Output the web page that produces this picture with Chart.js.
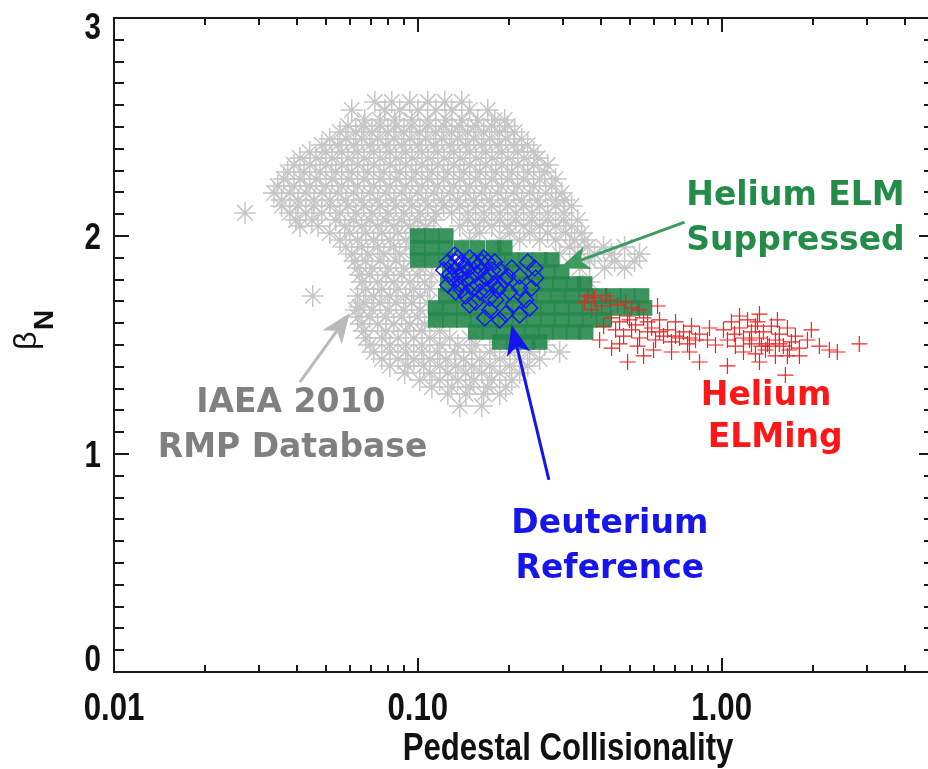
<!DOCTYPE html>
<html>
<head>
<meta charset="utf-8">
<script src="https://cdn.jsdelivr.net/npm/chart.js@4.4.1/dist/chart.umd.min.js"></script>
<style>
  html, body { margin: 0; padding: 0; background: #fff; overflow: hidden; }
  #wrap { width: 950px; height: 769px; }
</style>
</head>
<body>
<div id="wrap"><canvas id="grafica"></canvas></div>
<script>
// ---- datos (x = colisionalidad, y = beta N) ----
const rmpDatabase = [
  [0.0722,2.615],[0.0821,2.615],[0.0941,2.615],[0.1078,2.615],[0.1227,2.615],[0.1395,2.615],
  [0.0606,2.578],[0.0779,2.578],[0.0872,2.578],[0.1000,2.578],[0.1146,2.578],[0.1293,2.578],[0.1482,2.578],[0.1699,2.578],
  [0.0669,2.532],[0.0750,2.532],[0.0840,2.532],[0.0955,2.532],[0.1078,2.532],[0.1236,2.532],[0.1395,2.532],[0.1575,2.532],[0.1792,2.532],[0.1932,2.532],
  [0.0589,2.505],[0.0664,2.505],[0.0750,2.505],[0.0847,2.505],[0.0955,2.505],[0.1078,2.505],[0.1217,2.505],[0.1374,2.505],[0.1551,2.505],[0.1751,2.505],[0.1976,2.505],
  [0.0554,2.477],[0.0625,2.477],[0.0706,2.477],[0.0797,2.477],[0.0899,2.477],[0.1015,2.477],[0.1146,2.477],[0.1293,2.477],[0.1460,2.477],[0.1648,2.477],[0.1860,2.477],[0.2084,2.477],
  [0.0513,2.445],[0.0580,2.445],[0.0654,2.445],[0.0738,2.445],[0.0834,2.445],[0.0941,2.445],[0.1062,2.445],[0.1199,2.445],[0.1354,2.445],[0.1528,2.445],[0.1725,2.445],[0.1946,2.445],[0.2197,2.445],
  [0.0483,2.417],[0.0545,2.417],[0.0615,2.417],[0.0695,2.417],[0.0785,2.417],[0.0885,2.417],[0.1000,2.417],[0.1129,2.417],[0.1274,2.417],[0.1438,2.417],[0.1623,2.417],[0.1833,2.417],[0.2069,2.417],[0.2299,2.417],
  [0.0441,2.385],[0.0498,2.385],[0.0562,2.385],[0.0634,2.385],[0.0716,2.385],[0.0809,2.385],[0.0913,2.385],[0.1031,2.385],[0.1163,2.385],[0.1313,2.385],[0.1482,2.385],[0.1673,2.385],[0.1888,2.385],[0.2132,2.385],[0.2407,2.385],
  [0.0409,2.358],[0.0462,2.358],[0.0521,2.358],[0.0589,2.358],[0.0664,2.358],[0.0750,2.358],[0.0847,2.358],[0.0955,2.358],[0.1078,2.358],[0.1217,2.358],[0.1374,2.358],[0.1551,2.358],[0.1751,2.358],[0.1976,2.358],[0.2231,2.358],[0.2481,2.358],
  [0.0391,2.326],[0.0441,2.326],[0.0498,2.326],[0.0562,2.326],[0.0634,2.326],[0.0716,2.326],[0.0809,2.326],[0.0913,2.326],[0.1031,2.326],[0.1163,2.326],[0.1313,2.326],[0.1482,2.326],[0.1673,2.326],[0.1888,2.326],[0.2132,2.326],[0.2407,2.326],[0.2675,2.326],
  [0.0373,2.294],[0.0422,2.294],[0.0476,2.294],[0.0537,2.294],[0.0606,2.294],[0.0684,2.294],[0.0773,2.294],[0.0872,2.294],[0.0985,2.294],[0.1112,2.294],[0.1255,2.294],[0.1416,2.294],[0.1599,2.294],[0.1805,2.294],[0.2038,2.294],[0.2299,2.294],[0.2615,2.294],
  [0.0362,2.261],[0.0409,2.261],[0.0462,2.261],[0.0521,2.261],[0.0589,2.261],[0.0664,2.261],[0.0750,2.261],[0.0847,2.261],[0.0955,2.261],[0.1078,2.261],[0.1217,2.261],[0.1374,2.261],[0.1551,2.261],[0.1751,2.261],[0.1976,2.261],[0.2231,2.261],[0.2518,2.261],[0.2842,2.261],
  [0.0346,2.229],[0.0391,2.229],[0.0441,2.229],[0.0498,2.229],[0.0562,2.229],[0.0634,2.229],[0.0716,2.229],[0.0809,2.229],[0.0913,2.229],[0.1031,2.229],[0.1163,2.229],[0.1313,2.229],[0.1482,2.229],[0.1673,2.229],[0.1888,2.229],[0.2132,2.229],[0.2407,2.229],[0.2758,2.229],
  [0.0336,2.197],[0.0379,2.197],[0.0428,2.197],[0.0483,2.197],[0.0545,2.197],[0.0615,2.197],[0.0695,2.197],[0.0785,2.197],[0.0885,2.197],[0.1000,2.197],[0.1129,2.197],[0.1274,2.197],[0.1438,2.197],[0.1623,2.197],[0.1833,2.197],[0.2069,2.197],[0.2335,2.197],[0.2635,2.197],[0.2975,2.197],
  [0.0356,2.165],[0.0403,2.165],[0.0455,2.165],[0.0513,2.165],[0.0580,2.165],[0.0654,2.165],[0.0738,2.165],[0.0834,2.165],[0.0941,2.165],[0.1062,2.165],[0.1199,2.165],[0.1354,2.165],[0.1528,2.165],[0.1725,2.165],[0.1946,2.165],[0.2197,2.165],[0.2481,2.165],[0.2842,2.165],[0.3043,2.165],
  [0.0356,2.138],[0.0403,2.138],[0.0455,2.138],[0.0513,2.138],[0.0589,2.138],[0.0664,2.138],[0.0750,2.138],[0.0847,2.138],[0.0955,2.138],[0.1078,2.138],[0.1217,2.138],[0.1374,2.138],[0.1551,2.138],[0.1751,2.138],[0.1976,2.138],[0.2231,2.138],[0.2518,2.138],[0.2842,2.138],[0.3208,2.138],
  [0.0270,2.106],[0.0379,2.106],[0.0428,2.106],[0.0483,2.106],[0.0554,2.106],[0.0625,2.106],[0.0706,2.106],[0.0797,2.106],[0.0899,2.106],[0.1015,2.106],[0.1146,2.106],[0.1293,2.106],[0.1460,2.106],[0.1648,2.106],[0.1860,2.106],[0.2100,2.106],[0.2371,2.106],[0.2675,2.106],[0.3020,2.106],
  [0.0397,2.073],[0.0448,2.073],[0.0537,2.073],[0.0615,2.073],[0.0695,2.073],[0.0785,2.073],[0.0885,2.073],[0.1000,2.073],[0.1129,2.073],[0.1460,2.073],[0.1648,2.073],[0.1860,2.073],[0.2100,2.073],[0.2371,2.073],[0.2675,2.073],[0.3020,2.073],[0.3358,2.073],
  [0.0409,2.046],[0.0469,2.046],[0.0575,2.046],[0.0654,2.046],[0.0738,2.046],[0.0834,2.046],[0.0941,2.046],[0.1062,2.046],[0.1374,2.046],[0.1551,2.046],[0.1751,2.046],[0.1976,2.046],[0.2231,2.046],[0.2518,2.046],[0.2842,2.046],[0.3208,2.046],
  [0.0513,2.014],[0.0597,2.014],[0.0674,2.014],[0.0761,2.014],[0.0860,2.014],[0.0970,2.014],[0.1599,2.014],[0.2007,2.014],[0.2335,2.014],[0.2675,2.014],[0.3066,2.014],[0.3461,2.014],
  [0.0554,1.982],[0.0634,1.982],[0.0716,1.982],[0.0809,1.982],[0.0913,1.982],[0.1482,1.982],[0.1860,1.982],[0.2164,1.982],[0.2518,1.982],[0.2842,1.982],[0.3282,1.982],[0.3541,1.982],
  [0.0580,1.950],[0.0654,1.950],[0.0738,1.950],[0.0834,1.950],[0.0941,1.950],[0.3160,1.950],[0.3622,1.950],[0.4088,1.950],[0.4792,1.950],
  [0.0606,1.917],[0.0684,1.917],[0.0773,1.917],[0.0872,1.917],[0.2930,1.917],[0.3358,1.917],[0.3819,1.917],[0.4343,1.917],[0.5369,1.917],
  [0.0620,1.885],[0.0674,1.885],[0.0750,1.885],[0.0847,1.885],[0.0955,1.885],[0.1062,1.885],[0.3677,1.885],[0.4443,1.885],[0.5169,1.885],
  [0.0634,1.853],[0.0706,1.853],[0.0797,1.853],[0.0899,1.853],[0.1015,1.853],[0.3409,1.853],[0.4119,1.853],[0.4792,1.853],
  [0.0644,1.821],[0.0695,1.821],[0.0785,1.821],[0.0885,1.821],[0.1000,1.821],[0.1112,1.821],
  [0.0654,1.789],[0.0738,1.789],[0.0834,1.789],[0.0941,1.789],[0.1054,1.789],[0.3677,1.789],
  [0.0674,1.757],[0.0761,1.757],[0.0860,1.757],[0.0970,1.757],[0.1095,1.757],
  [0.0451,1.725],[0.0634,1.725],[0.0716,1.725],[0.0809,1.725],[0.0913,1.725],[0.1015,1.725],[0.3043,1.725],[0.3677,1.725],
  [0.0664,1.693],[0.0750,1.693],[0.0847,1.693],[0.0955,1.693],[0.1078,1.693],
  [0.0644,1.674],
  [0.0625,1.661],[0.0706,1.661],[0.0797,1.661],[0.0899,1.661],[0.1015,1.661],[0.1181,1.661],
  [0.0634,1.628],[0.0695,1.628],[0.0785,1.628],[0.0885,1.628],[0.1000,1.628],[0.1129,1.628],
  [0.0654,1.596],[0.0738,1.596],[0.0834,1.596],[0.0941,1.596],[0.1054,1.596],
  [0.0664,1.564],[0.0785,1.564],[0.0913,1.564],[0.1031,1.564],[0.1181,1.564],
  [0.0674,1.532],[0.0761,1.532],[0.0860,1.532],[0.0970,1.532],[0.1095,1.532],[0.1274,1.532],[0.1482,1.532],
  [0.0695,1.500],[0.0809,1.500],[0.0913,1.500],[0.1031,1.500],[0.1181,1.500],[0.1354,1.500],[0.1551,1.500],[0.1792,1.500],[0.2084,1.500],[0.2615,1.500],
  [0.0716,1.468],[0.0809,1.468],[0.0913,1.468],[0.1031,1.468],[0.1163,1.468],[0.1323,1.468],[0.1505,1.468],[0.1725,1.468],[0.2007,1.468],[0.2335,1.468],[0.2930,1.468],
  [0.0761,1.436],[0.0860,1.436],[0.0970,1.436],[0.1095,1.436],[0.1236,1.436],[0.1416,1.436],[0.1599,1.436],[0.1860,1.436],[0.2164,1.436],[0.2518,1.436],
  [0.0809,1.404],[0.0927,1.404],[0.1046,1.404],[0.1181,1.404],[0.1333,1.404],[0.1505,1.404],[0.1725,1.404],[0.2007,1.404],[0.2299,1.404],
  [0.0906,1.372],[0.1095,1.372],[0.1255,1.372],[0.1438,1.372],[0.1623,1.372],[0.1860,1.372],[0.2164,1.372],
  [0.1015,1.339],[0.1181,1.339],[0.1354,1.339],[0.1528,1.339],[0.1751,1.339],[0.2038,1.339],
  [0.1112,1.307],[0.1293,1.307],[0.1482,1.307],[0.1699,1.307],[0.1946,1.307],
  [0.1255,1.275],[0.1438,1.275],[0.1648,1.275],[0.1860,1.275],
  [0.1374,1.220],[0.1623,1.220]
];

const heliumSuppressed = [
  [0.1000,2.000],[0.1112,2.000],[0.1236,2.000],
  [0.1000,1.945],[0.1112,1.945],[0.1236,1.945],[0.1395,1.945],[0.1575,1.945],[0.1778,1.945],[0.1932,1.945],
  [0.1000,1.890],[0.1112,1.890],[0.1236,1.890],[0.1482,1.890],[0.1648,1.890],[0.1833,1.890],[0.2038,1.890],[0.2265,1.890],[0.2518,1.890],[0.2758,1.890],
  [0.1274,1.835],[0.1416,1.835],[0.1575,1.835],[0.1751,1.835],[0.1946,1.835],[0.2164,1.835],[0.2407,1.835],[0.2675,1.835],[0.2975,1.835],
  [0.1255,1.780],[0.1395,1.780],[0.1551,1.780],[0.1725,1.780],[0.1917,1.780],[0.2132,1.780],[0.2371,1.780],[0.2635,1.780],[0.2930,1.780],[0.3257,1.780],[0.3541,1.780],
  [0.1236,1.725],[0.1374,1.725],[0.1528,1.725],[0.1699,1.725],[0.1888,1.725],[0.2100,1.725],[0.2335,1.725],[0.2596,1.725],[0.2886,1.725],[0.3208,1.725],[0.3568,1.725],[0.3966,1.725],[0.4410,1.725],[0.4902,1.725],[0.5451,1.725],
  [0.1146,1.670],[0.1274,1.670],[0.1416,1.670],[0.1575,1.670],[0.1751,1.670],[0.1946,1.670],[0.2164,1.670],[0.2407,1.670],[0.2675,1.670],[0.2975,1.670],[0.3307,1.670],[0.3677,1.670],[0.4088,1.670],[0.4545,1.670],[0.5053,1.670],[0.5576,1.670],
  [0.1146,1.615],[0.1274,1.615],[0.1416,1.615],[0.1575,1.615],[0.1751,1.615],[0.1946,1.615],[0.2164,1.615],[0.2407,1.615],[0.2675,1.615],[0.2975,1.615],[0.3307,1.615],[0.3677,1.615],[0.4088,1.615],
  [0.1551,1.560],[0.1725,1.560],[0.1917,1.560],[0.2132,1.560],[0.2371,1.560],[0.2635,1.560],[0.2930,1.560],[0.3257,1.560],[0.3568,1.560],
  [0.1860,1.514],[0.2069,1.514],[0.2299,1.514],[0.2518,1.514]
];

const deuteriumRef = [
  [0.1255,1.881],[0.1323,1.844],[0.1395,1.881],[0.1460,1.844],[0.1539,1.881],[0.1623,1.844],[0.1699,1.881],
  [0.1293,1.807],[0.1374,1.780],[0.1482,1.807],[0.1575,1.775],[0.1673,1.807],[0.1778,1.780],[0.1860,1.844],
  [0.1333,1.743],[0.1438,1.725],[0.1599,1.743],[0.1725,1.716],[0.1833,1.752],[0.1932,1.798],[0.2038,1.853],
  [0.2164,1.817],[0.2299,1.881],[0.2425,1.853],[0.2007,1.743],[0.2164,1.761],[0.2069,1.688],[0.2265,1.706],
  [0.2371,1.761],[0.1946,1.642],[0.2164,1.638],[0.1725,1.661],[0.1860,1.615],[0.1551,1.697],[0.1427,1.867],
  [0.1354,1.899],[0.1648,1.899],[0.1516,1.757],[0.1217,1.844],[0.1255,1.775],[0.1406,1.826],[0.1765,1.844],
  [0.1482,1.683],[0.1661,1.624],[0.2335,1.670],[0.1805,1.706],[0.1293,1.862],[0.1482,1.899],[0.1575,1.862],[0.1374,1.817],
  [0.1333,1.881],[0.1623,1.881],[0.1438,1.798],[0.1725,1.817],[0.1274,1.826],[0.1551,1.826],[0.1860,1.771],
  [0.1395,1.752],[0.1673,1.752],[0.1323,1.913],[0.1792,1.881],[0.1976,1.817],[0.2444,1.807]
];

const heliumElming = [
  [0.3541,1.697],[0.3819,1.716],[0.4027,1.679],[0.4278,1.706],[0.4545,1.683],[0.4829,1.697],[0.3733,1.661],[0.4150,1.725],[0.5053,1.670],[0.3622,1.725],
  [0.4343,1.624],[0.4614,1.606],[0.4902,1.633],[0.5208,1.592],[0.5534,1.624],[0.5880,1.578],[0.6246,1.615],[0.6636,1.569],[0.7050,1.606],[0.7491,1.560],
  [0.7958,1.587],[0.8455,1.550],[0.8983,1.523],[0.4477,1.569],[0.4756,1.541],[0.5053,1.569],[0.5369,1.532],[0.5705,1.560],[0.6060,1.523],[0.6438,1.541],
  [0.6840,1.514],[0.7267,1.532],[0.7721,1.505],[0.8203,1.523],[0.4088,1.587],[0.4614,1.505],[0.5288,1.495],[0.5969,1.477],[0.6840,1.468],[0.7838,1.468],
  [0.9120,1.578],[0.9544,1.500],[0.6153,1.679],[0.5369,1.661],[0.3966,1.523],[0.4343,1.486],[0.4902,1.422],[0.5534,1.450],[0.8455,1.422],
  [0.5705,1.606],[0.6246,1.560],[0.7050,1.541],[0.4977,1.615],[0.7838,1.532],
  [1.014,1.569],[1.077,1.606],[1.145,1.578],[1.217,1.615],[1.292,1.587],[1.373,1.560],[1.458,1.587],[1.549,1.550],[1.646,1.578],[1.749,1.541],
  [1.045,1.523],[1.110,1.495],[1.180,1.532],[1.254,1.505],[1.332,1.532],[1.415,1.505],[1.503,1.523],[1.597,1.495],[1.697,1.514],[1.803,1.486],
  [1.916,1.523],[1.180,1.468],[1.292,1.459],[1.394,1.477],[1.503,1.450],[1.646,1.450],[1.803,1.450],[1.332,1.642],[1.312,1.606],[1.974,1.569],
  [2.097,1.495],[2.262,1.477],[2.403,1.468],[1.045,1.404],[1.621,1.362],[1.332,1.422],[1.436,1.495],[1.254,1.560],[1.145,1.633],[1.526,1.615],
  [1.235,1.523],[1.352,1.495],[1.549,1.505],[1.671,1.477],[1.102,1.550],
  [2.839,1.505]
];

// ejes
const xMin = 0.01, xMax = 5;
const yMin = 0, yMax = 3;
const xMajor = [0.01, 0.1, 1];
const xTickLabels = ['0.01', '0.10', '1.00'];
const yMajor = [0, 1, 2, 3];
const yTickLabels = ['0', '1', '2', '3'];
const xTitle = 'Pedestal Collisionality';

// colores
const verde = 'rgb(34,140,72)';
const rojo = 'rgb(255,22,22)';
const azul = 'rgb(22,22,235)';
const gris = 'rgb(128,128,128)';

// textos y flechas (en coordenadas de datos)
const notas = [
  { text: 'Helium ELM', x: 1.75, y: 2.14, color: verde },
  { text: 'Suppressed', x: 1.75, y: 1.935, color: verde },
  { text: 'Helium', x: 1.40, y: 1.225, color: rojo },
  { text: 'ELMing', x: 1.50, y: 1.032, color: rojo },
  { text: 'IAEA 2010', x: 0.0382, y: 1.193, color: gris },
  { text: 'RMP Database', x: 0.0387, y: 0.986, color: gris },
  { text: 'Deuterium', x: 0.4285, y: 0.638, color: azul },
  { text: 'Reference', x: 0.4285, y: 0.431, color: azul }
];
const flechas = [
  { from: [0.755, 2.064], to: [0.293, 1.853], color: 'rgb(60,155,95)' },
  { from: [0.0409, 1.330], to: [0.0597, 1.647], color: 'rgb(185,185,185)' },
  { from: [0.270, 0.881], to: [0.2037, 1.592], color: 'rgb(20,20,240)' }
];

const toXY = arr => arr.map(p => ({ x: p[0], y: p[1] }));

const fuenteEje = 'bold 38px "Liberation Sans", Arial, sans-serif';

// texto angosto (la figura usa una helvetica condensada)
function textoAngosto(ctx, txt, x, y, align) {
  ctx.save();
  ctx.translate(x, y);
  ctx.scale(0.82, 1);
  ctx.textAlign = align;
  ctx.fillText(txt, 0, 0);
  ctx.restore();
}

// Plugin para marco estilo IDL, ticks hacia adentro, etiquetas y anotaciones
const marcoIDL = {
  id: 'marcoIDL',
  afterDatasetsDraw(chart) {
    const ctx = chart.ctx;
    const a = chart.chartArea;
    const xs = chart.scales.x, ys = chart.scales.y;
    ctx.save();

    // flechas
    flechas.forEach(f => {
      const x0 = xs.getPixelForValue(f.from[0]), y0 = ys.getPixelForValue(f.from[1]);
      const x1 = xs.getPixelForValue(f.to[0]), y1 = ys.getPixelForValue(f.to[1]);
      const ang = Math.atan2(y1 - y0, x1 - x0);
      const len = 30, half = 12;
      const bx = x1 - len * Math.cos(ang), by = y1 - len * Math.sin(ang);
      ctx.strokeStyle = f.color;
      ctx.fillStyle = f.color;
      ctx.lineWidth = 3;
      ctx.beginPath();
      ctx.moveTo(x0, y0);
      ctx.lineTo(bx + 8 * Math.cos(ang), by + 8 * Math.sin(ang));
      ctx.stroke();
      ctx.beginPath();
      ctx.moveTo(x1, y1);
      ctx.lineTo(bx + half * Math.sin(ang), by - half * Math.cos(ang));
      ctx.lineTo(bx + 8 * Math.cos(ang), by + 8 * Math.sin(ang));
      ctx.lineTo(bx - half * Math.sin(ang), by + half * Math.cos(ang));
      ctx.closePath();
      ctx.fill();
    });

    // textos
    ctx.font = 'bold 33px "DejaVu Sans", sans-serif';
    ctx.textAlign = 'center';
    ctx.textBaseline = 'alphabetic';
    notas.forEach(n => {
      ctx.fillStyle = n.color;
      ctx.fillText(n.text, xs.getPixelForValue(n.x), ys.getPixelForValue(n.y));
    });

    // marco
    ctx.strokeStyle = '#1a1a1a';
    ctx.lineWidth = 2;
    ctx.strokeRect(a.left, a.top, a.right - a.left, a.bottom - a.top);

    // ticks eje x (abajo y arriba)
    ctx.beginPath();
    xMajor.forEach(d => {
      for (let k = 1; k <= 9; k++) {
        const v = d * k;
        if (v > xMax) break;
        const px = Math.round(xs.getPixelForValue(v));
        const l = k === 1 ? 14 : 7;
        ctx.moveTo(px, a.bottom); ctx.lineTo(px, a.bottom - l);
        ctx.moveTo(px, a.top); ctx.lineTo(px, a.top + l);
      }
    });
    // ticks eje y (izquierda y derecha)
    for (let i = 0; i <= 30; i++) {
      const py = Math.round(ys.getPixelForValue(i / 10));
      const l = i % 10 === 0 ? 15 : 10;
      ctx.moveTo(a.left, py); ctx.lineTo(a.left + l, py);
      ctx.moveTo(a.right, py); ctx.lineTo(a.right - l, py);
    }
    ctx.stroke();

    // etiquetas de ticks
    ctx.fillStyle = '#111';
    ctx.font = fuenteEje;
    xMajor.forEach((v, i) => {
      textoAngosto(ctx, xTickLabels[i], xs.getPixelForValue(v), a.bottom + 48, 'center');
    });
    ctx.font = 'bold 36px "Liberation Sans", Arial, sans-serif';
    yMajor.forEach((v, i) => {
      let py = ys.getPixelForValue(v) + 13;
      py = Math.min(Math.max(py, a.top + 21), a.bottom - 1);
      textoAngosto(ctx, yTickLabels[i], a.left - 13, py, 'right');
    });

    // titulo eje x
    ctx.font = 'bold 38px "Liberation Sans", Arial, sans-serif';
    textoAngosto(ctx, xTitle, 568, 760, 'center');

    // titulo eje y: beta sub N
    ctx.translate(36, 350);
    ctx.rotate(-Math.PI / 2);
    ctx.textAlign = 'left';
    ctx.font = '32px "Liberation Sans", sans-serif';
    ctx.fillText('\u03B2', 0, 0);
    ctx.font = 'bold 28px "Liberation Sans", sans-serif';
    ctx.fillText('N', 20, 17);

    ctx.restore();
  }
};

const grafica = new Chart(document.getElementById('grafica'), {
  type: 'scatter',
  data: {
    datasets: [
      {
        label: 'IAEA 2010 RMP Database',
        data: toXY(rmpDatabase),
        pointStyle: 'star',
        pointRadius: 11,
        borderColor: 'rgb(198,198,198)',
        backgroundColor: 'rgb(198,198,198)',
        borderWidth: 1.5,
        order: 4
      },
      {
        label: 'Helium ELM Suppressed',
        data: toXY(heliumSuppressed),
        pointStyle: 'rect',
        pointRadius: 11,
        backgroundColor: 'rgba(38,135,76,0.9)',
        borderWidth: 0,
        order: 3
      },
      {
        label: 'Helium ELMing',
        data: toXY(heliumElming),
        pointStyle: 'cross',
        pointRadius: 8,
        borderColor: 'rgb(250,30,30)',
        borderWidth: 1.2,
        order: 2
      },
      {
        label: 'Deuterium Reference',
        data: toXY(deuteriumRef),
        pointStyle: 'rectRot',
        pointRadius: 8,
        borderColor: 'rgb(20,20,250)',
        backgroundColor: 'rgba(0,0,0,0)',
        borderWidth: 1.4,
        order: 1
      }
    ]
  },
  options: {
    responsive: true,
    maintainAspectRatio: false,
    animation: false,
    layout: { padding: { left: 114, top: 18, right: 16, bottom: 97 } },
    scales: {
      x: { type: 'logarithmic', min: xMin, max: xMax, display: false },
      y: { type: 'linear', min: yMin, max: yMax, display: false }
    },
    plugins: {
      legend: { display: false },
      tooltip: { enabled: false }
    }
  },
  plugins: [marcoIDL]
});
</script>
</body>
</html>
